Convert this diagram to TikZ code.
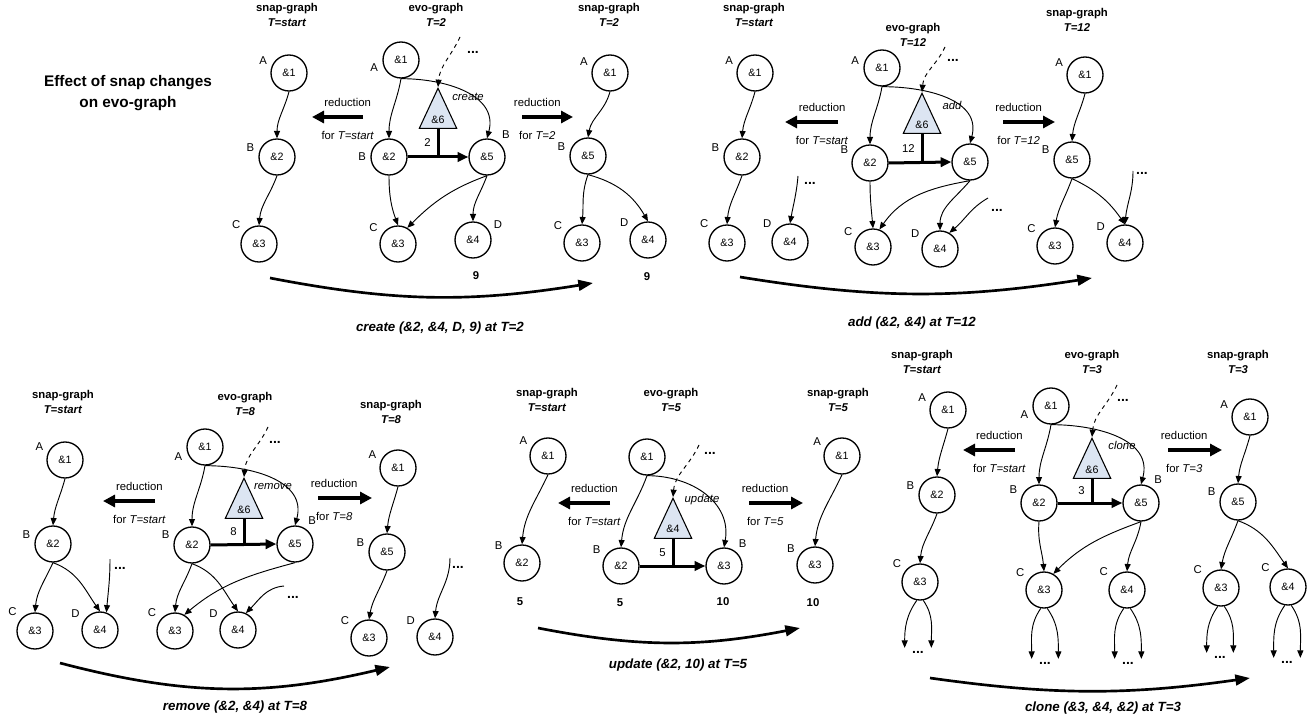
\documentclass[tikz,border=0pt]{standalone}
\usepackage{fontspec}
\setmainfont{Liberation Sans}
\usetikzlibrary{arrows.meta,shapes.geometric}
\definecolor{trifill}{RGB}{220,229,242}

\tikzset{
  vtx/.style={circle,draw,line width=1pt,minimum size=27pt,inner sep=0pt,font=\fontsize{8}{9}\selectfont},
  tri/.style={isosceles triangle,isosceles triangle apex angle=50,shape border rotate=90,draw,line width=0.8pt,
    fill=trifill,minimum width=28pt,minimum height=28pt,inner sep=1pt,anchor=apex,font=\fontsize{8}{9}\selectfont},
  hdr/.style={align=center,font=\bfseries\fontsize{8.5}{11.25}\selectfont},
  num/.style={font=\bfseries\fontsize{8.5}{10}\selectfont},
  dts/.style={font=\bfseries\fontsize{10.5}{12}\selectfont,inner sep=2pt},
  captxt/.style={font=\bfseries\itshape\fontsize{10}{12}\selectfont},
  txt/.style={font=\fontsize{8.5}{10}\selectfont},
  op/.style={font=\itshape\fontsize{8.5}{10}\selectfont},
  thk/.style={line width=2.25pt},
  thkarr/.style={thk,-{Triangle[length=8pt,width=7pt]}},
  redarr/.style={line width=3pt,-{Triangle[length=9pt,width=9pt]}},
  bigarr/.style={line width=2pt,-{Triangle[length=11pt,width=8pt]}},
  every label/.style={font=\fontsize{8.5}{10}\selectfont,inner sep=1pt},
  label distance=2pt
}

\begin{document}
\begin{tikzpicture}[x=0.75pt,y=-0.75pt,>={Triangle[length=5.5pt,width=4.5pt]},line width=0.7pt]
  \useasboundingbox (0,0) rectangle (1312,723);
  \node[font=\bfseries\fontsize{11.5}{15.5}\selectfont,align=center] (title) at (128,93) {Effect of snap changes\\on evo-graph};

  % create
  \node[hdr] (p1sh) at (287,15) {snap-graph\\\textit{T=start}};
  \node[vtx,label=162:A] (p1s1) at (289,73) {\&1};
  \node[vtx,label=170:B] (p1s2) at (277,157) {\&2};
  \node[vtx,label=142:C] (p1s3) at (259,244) {\&3};
  \draw[->] (p1s1.south) to[out=-105,in=90] (p1s2.north);
  \draw[->] (p1s2.south) to[out=-110,in=85] (p1s3.north);
  \coordinate (p1redl0) at (363,117);
  \coordinate (p1redl1) at (312,117);
  \draw[redarr] (p1redl0) -- (p1redl1) node[pos=0.3,above=3pt,txt] {reduction} node[pos=0.3,below=6pt,txt] {for \textit{T=start}};

  \node[hdr] (p1ah) at (436,15) {evo-graph\\\textit{T=2}};
  \node[vtx,label=186:A] (p1a1) at (401,60) {\&1};
  \node[vtx,label=180:B] (p1a2) at (389,157) {\&2};
  \node[vtx,label=51:B] (p1a5) at (487,157) {\&5};
  \node[vtx,label=151:C] (p1a3) at (398,244) {\&3};
  \node[vtx,label=27:D] (p1a4) at (473,240) {\&4};
  \node[tri] (p1a6) at (438,87) {\&6};
  \node[op] (p1op) at (468,97) {create};
  \node[dts] (p1dd) at (473,52) {...};
  \coordinate (p1d0) at (460,37);
  \draw[->,dashed] (p1d0) to[out=-115,in=85] (p1a6.apex);
  \draw[->] (p1a1.south) to[out=-100,in=90] (p1a2.north);
  \draw[->] (p1a1.south) to[out=0,in=75,looseness=1.1] (p1a5.north);
  \draw[thkarr] (p1a2.east) -- (p1a5.west);
  \draw[thk] (p1a6.lower side) -- (p1a6.lower side |- p1a2.center) node[midway,left=1pt,txt] {2};
  \draw[->] (p1a2.south) to[out=-90,in=110] (p1a3.north);
  \draw[->] (p1a5.south) to[out=200,in=45] (p1a3.60);
  \draw[->] (p1a5.south) to[out=-110,in=90] (p1a4.north);
  \node[num] (p1n1) at (476,276) {9};

  \coordinate (p1redr0) at (522,117);
  \coordinate (p1redr1) at (573,117);
  \draw[redarr] (p1redr0) -- (p1redr1) node[pos=0.3,above=3pt,txt] {reduction} node[pos=0.3,below=6pt,txt] {for \textit{T=2}};
  \node[hdr] (p1rh) at (609,15) {snap-graph\\\textit{T=2}};
  \node[vtx,label=164:A] (p1r1) at (610,73) {\&1};
  \node[vtx,label=170:B] (p1r5) at (588,156) {\&5};
  \node[vtx,label=148:C] (p1r3) at (582,243) {\&3};
  \node[vtx,label=147:D] (p1r4) at (648,240) {\&4};
  \draw[->] (p1r1.south) to[out=-105,in=80] (p1r5.north);
  \draw[->] (p1r5.south) to[out=-110,in=85] (p1r3.north);
  \draw[->] (p1r5.south) to[out=-15,in=120] (p1r4.north);
  \node[num] (p1n2) at (647,277) {9};
  \coordinate (p1cur0) at (270,278);
  \coordinate (p1cur1) at (593,283);
  \draw[bigarr] (p1cur0) to[bend right=10] (p1cur1);
  \node[captxt] (p1cap) at (440,328) {create (\&2, \&4, D, 9) at T=2};

  % add
  \node[hdr] (p2sh) at (754,15) {snap-graph\\\textit{T=start}};
  \node[vtx,label=162:A] (p2s1) at (755,73) {\&1};
  \node[vtx,label=170:B] (p2s2) at (742,157) {\&2};
  \node[vtx,label=142:C] (p2s3) at (727,243) {\&3};
  \node[vtx,label=142:D] (p2s4) at (790,242) {\&4};
  \node[dts] (p2sd) at (810,183) {...};
  \coordinate (p2sd0) at (798,176);
  \draw[->] (p2s1.south) to[out=-105,in=85] (p2s2.north);
  \draw[->] (p2s2.south) to[out=-110,in=85] (p2s3.north);
  \draw[->] (p2sd0) to[out=-95,in=80] (p2s4.north);
  \coordinate (p2redl0) at (838,122);
  \coordinate (p2redl1) at (785,122);
  \draw[redarr] (p2redl0) -- (p2redl1) node[pos=0.3,above=3pt,txt] {reduction} node[pos=0.3,below=6pt,txt] {for \textit{T=start}};

  \node[hdr] (p2ah) at (913,35) {evo-graph\\\textit{T=12}};
  \node[vtx,label=176:A] (p2a1) at (882,68) {\&1};
  \node[vtx,label=160:B] (p2a2) at (870,163) {\&2};
  \node[vtx] (p2a5) at (970,162) {\&5};
  \node[vtx,label=152:C] (p2a3) at (873,247) {\&3};
  \node[vtx,label=153:D] (p2a4) at (940,249) {\&4};
  \node[tri] (p2a6) at (922,92) {\&6};
  \node[op] (p2op) at (952,105) {add};
  \node[dts] (p2dd) at (953,60) {...};
  \coordinate (p2d0) at (945,47);
  \draw[->,dashed] (p2d0) to[out=-115,in=85] (p2a6.apex);
  \draw[->] (p2a1.south) to[out=-100,in=90] (p2a2.north);
  \draw[->] (p2a1.south) to[out=0,in=75,looseness=1.1] (p2a5.north);
  \draw[thkarr] (p2a2.east) -- (p2a5.west);
  \draw[thk] (p2a6.lower side) -- (p2a6.lower side |- p2a2.center) node[midway,left=1pt,txt] {12};
  \draw[->] (p2a2.south) to[out=-90,in=95] (p2a3.north);
  \draw[->] (p2a5.south) to[out=190,in=55] (p2a3.70);
  \draw[->] (p2a5.south) to[out=-130,in=90] (p2a4.north);
  \node[dts] (p2ad) at (997,210) {...};
  \coordinate (p2ad0) at (988,198);
  \draw[->] (p2ad0) to[out=-150,in=40] (p2a4.60);

  \coordinate (p2redr0) at (1003,122);
  \coordinate (p2redr1) at (1055,122);
  \draw[redarr] (p2redr0) -- (p2redr1) node[pos=0.3,above=3pt,txt] {reduction} node[pos=0.3,below=6pt,txt] {for \textit{T=12}};
  \node[hdr] (p2rh) at (1077,20) {snap-graph\\\textit{T=12}};
  \node[vtx,label=163:A] (p2r1) at (1085,75) {\&1};
  \node[vtx,label=168:B] (p2r5) at (1072,160) {\&5};
  \node[vtx,label=146:C] (p2r3) at (1055,246) {\&3};
  \node[vtx,label=150:D] (p2r4) at (1125,243) {\&4};
  \node[dts] (p2rd) at (1142,173) {...};
  \coordinate (p2rd0) at (1133,171);
  \draw[->] (p2r1.south) to[out=-105,in=85] (p2r5.north);
  \draw[->] (p2r5.south) to[out=-110,in=80] (p2r3.north);
  \draw[->] (p2r5.south) to[out=-25,in=125] (p2r4.north);
  \draw[->] (p2rd0) to[out=-90,in=85] (p2r4.north);
  \coordinate (p2cur0) at (740,277);
  \coordinate (p2cur1) at (1092,278);
  \draw[bigarr] (p2cur0) to[bend right=9] (p2cur1);
  \node[captxt] (p2cap) at (912,323) {add (\&2, \&4) at T=12};

  % remove
  \node[hdr] (p3sh) at (63,402) {snap-graph\\\textit{T=start}};
  \node[vtx,label=160:A] (p3s1) at (65,460) {\&1};
  \node[vtx,label=170:B] (p3s2) at (53,544) {\&2};
  \node[vtx,label=141:C] (p3s3) at (35,631) {\&3};
  \node[vtx,label=151:D] (p3s4) at (100,630) {\&4};
  \node[dts] (p3sd) at (120,568) {...};
  \coordinate (p3sd0) at (110,559);
  \draw[->] (p3s1.south) to[out=-105,in=85] (p3s2.north);
  \draw[->] (p3s2.south) to[out=-115,in=85] (p3s3.north);
  \draw[->] (p3s2.south) to[out=-20,in=125] (p3s4.north);
  \draw[->] (p3sd0) to[out=-90,in=85] (p3s4.70);
  \coordinate (p3redl0) at (155,501);
  \coordinate (p3redl1) at (103,501);
  \draw[redarr] (p3redl0) -- (p3redl1) node[pos=0.3,above=3pt,txt] {reduction} node[pos=0.3,below=6pt,txt] {for \textit{T=start}};

  \node[hdr] (p3ah) at (245,404) {evo-graph\\\textit{T=8}};
  \node[vtx,label=190:A] (p3a1) at (205,447) {\&1};
  \node[vtx,label=166:B] (p3a2) at (192,545) {\&2};
  \node[vtx,label=57:B] (p3a5) at (295,544) {\&5};
  \node[vtx,label=144:C] (p3a3) at (175,631) {\&3};
  \node[vtx,label=151:D] (p3a4) at (238,630) {\&4};
  \node[tri] (p3a6) at (244,477) {\&6};
  \node[op] (p3op) at (273,487) {remove};
  \node[dts] (p3dd) at (275,442) {...};
  \coordinate (p3d0) at (268,427);
  \draw[->,dashed] (p3d0) to[out=-115,in=85] (p3a6.apex);
  \draw[->] (p3a1.south) to[out=-100,in=90] (p3a2.north);
  \draw[->] (p3a1.south) to[out=0,in=75,looseness=1.1] (p3a5.north);
  \draw[thkarr] (p3a2.east) -- (p3a5.west);
  \draw[thk] (p3a6.lower side) -- (p3a6.lower side |- p3a2.center) node[midway,left=1pt,txt] {8};
  \draw[->] (p3a2.south) to[out=-110,in=85] (p3a3.north);
  \draw[->] (p3a2.south) to[out=-20,in=125] (p3a4.north);
  \draw[->] (p3a5.south) to[out=195,in=40] (p3a3.60);
  \node[dts] (p3ad) at (293,597) {...};
  \coordinate (p3ad0) at (284,586);
  \draw[->] (p3ad0) to[out=185,in=45] (p3a4.65);

  \coordinate (p3redr0) at (318,498);
  \coordinate (p3redr1) at (372,498);
  \draw[redarr] (p3redr0) -- (p3redr1) node[pos=0.3,above=3pt,txt] {reduction} node[pos=0.3,below=6pt,txt] {for \textit{T=8}};
  \node[hdr] (p3rh) at (391,412) {snap-graph\\\textit{T=8}};
  \node[vtx,label=159:A] (p3r1) at (398,468) {\&1};
  \node[vtx,label=170:B] (p3r5) at (387,552) {\&5};
  \node[vtx,label=148:C] (p3r3) at (369,638) {\&3};
  \node[vtx,label=149:D] (p3r4) at (435,637) {\&4};
  \node[dts] (p3rd) at (458,567) {...};
  \coordinate (p3rd0) at (450,558);
  \draw[->] (p3r1.south) to[out=-105,in=85] (p3r5.north);
  \draw[->] (p3r5.south) to[out=-110,in=80] (p3r3.north);
  \draw[->] (p3rd0) to[out=-90,in=85] (p3r4.north);
  \coordinate (p3cur0) at (60,663);
  \coordinate (p3cur1) at (390,667);
  \draw[bigarr] (p3cur0) to[bend right=14] (p3cur1);
  \node[captxt] (p3cap) at (235,707) {remove (\&2, \&4) at T=8};

  % update
  \node[hdr] (p4sh) at (547,400) {snap-graph\\\textit{T=start}};
  \node[vtx,label=153:A] (p4s1) at (548,456) {\&1};
  \node[vtx,label=147:B] (p4s2) at (522,563) {\&2};
  \draw[->] (p4s1.south) to[out=-115,in=85] (p4s2.north);
  \node[num] (p4n1) at (520,602) {5};
  \coordinate (p4redl0) at (610,503);
  \coordinate (p4redl1) at (558,503);
  \draw[redarr] (p4redl0) -- (p4redl1) node[pos=0.3,above=3pt,txt] {reduction} node[pos=0.3,below=6pt,txt] {for \textit{T=start}};

  \node[hdr] (p4ah) at (671,400) {evo-graph\\\textit{T=5}};
  \node[vtx] (p4a1) at (647,457) {\&1};
  \node[vtx,label=151:B] (p4a2) at (621,566) {\&2};
  \node[vtx,label=52:B] (p4a3) at (724,566) {\&3};
  \node[tri] (p4a4) at (673,497) {\&4};
  \node[op] (p4op) at (702,500) {update};
  \node[dts] (p4dd) at (710,453) {...};
  \coordinate (p4d0) at (699,445);
  \draw[->,dashed] (p4d0) to[out=-115,in=85] (p4a4.apex);
  \draw[->] (p4a1.south) to[out=-110,in=85] (p4a2.north);
  \draw[->] (p4a1.south) to[out=0,in=80,looseness=1.1] (p4a3.north);
  \draw[thkarr] (p4a2.east) -- (p4a3.west);
  \draw[thk] (p4a4.lower side) -- (p4a4.lower side |- p4a2.center) node[midway,left=1pt,txt] {5};
  \node[num] (p4n2) at (620,603) {5};
  \node[num] (p4n3) at (723,602) {10};

  \coordinate (p4redr0) at (749,503);
  \coordinate (p4redr1) at (803,503);
  \draw[redarr] (p4redr0) -- (p4redr1) node[pos=0.3,above=3pt,txt] {reduction} node[pos=0.3,below=6pt,txt] {for \textit{T=5}};
  \node[hdr] (p4rh) at (838,400) {snap-graph\\\textit{T=5}};
  \node[vtx,label=155:A] (p4r1) at (842,456) {\&1};
  \node[vtx,label=150:B] (p4r3) at (815,565) {\&3};
  \draw[->] (p4r1.south) to[out=-115,in=85] (p4r3.north);
  \node[num] (p4n4) at (813,603) {10};
  \coordinate (p4cur0) at (538,628);
  \coordinate (p4cur1) at (800,628);
  \draw[bigarr] (p4cur0) to[bend right=11] (p4cur1);
  \node[captxt] (p4cap) at (678,665) {update (\&2, 10) at T=5};

  % clone
  \node[hdr] (p5sh) at (922,362) {snap-graph\\\textit{T=start}};
  \node[vtx,label=162:A] (p5s1) at (948,410) {\&1};
  \node[vtx,label=170:B] (p5s2) at (937,495) {\&2};
  \node[vtx,label=143:C] (p5s3) at (920,582) {\&3};
  \node[dts] (p5sd) at (918,652) {...};
  \draw[->] (p5s1.south) to[out=-105,in=85] (p5s2.north);
  \draw[->] (p5s2.south) to[out=-110,in=85] (p5s3.north);
  \draw[->] (p5s3.-100) to[out=-125,in=90] ([xshift=-10pt]p5sd.north);
  \draw[->] (p5s3.-80) to[out=-55,in=90] ([xshift=10pt]p5sd.north);
  \coordinate (p5redl0) at (1015,450);
  \coordinate (p5redl1) at (963,450);
  \draw[redarr] (p5redl0) -- (p5redl1) node[pos=0.3,above=3pt,txt] {reduction} node[pos=0.3,below=6pt,txt] {for \textit{T=start}};

  \node[hdr] (p5ah) at (1092,362) {evo-graph\\\textit{T=3}};
  \node[vtx,label=189:A] (p5a1) at (1051,406) {\&1};
  \node[vtx,label=160:B] (p5a2) at (1039,503) {\&2};
  \node[vtx,label=57:B] (p5a5) at (1141,503) {\&5};
  \node[vtx,label=147:C] (p5a3) at (1044,590) {\&3};
  \node[vtx,label=145:C] (p5a4) at (1127,590) {\&4};
  \node[tri] (p5a6) at (1092,437) {\&6};
  \node[op] (p5op) at (1122,445) {clone};
  \node[dts] (p5dd) at (1123,400) {...};
  \coordinate (p5d0) at (1117,385);
  \draw[->,dashed] (p5d0) to[out=-115,in=85] (p5a6.apex);
  \draw[->] (p5a1.south) to[out=-100,in=90] (p5a2.north);
  \draw[->] (p5a1.south) to[out=0,in=75,looseness=1.1] (p5a5.north);
  \draw[thkarr] (p5a2.east) -- (p5a5.west);
  \draw[thk] (p5a6.lower side) -- (p5a6.lower side |- p5a2.center) node[midway,left=1pt,txt] {3};
  \draw[->] (p5a2.south) to[out=-95,in=95] (p5a3.north);
  \draw[->] (p5a5.south) to[out=200,in=45] (p5a3.60);
  \draw[->] (p5a5.south) to[out=-100,in=85] (p5a4.north);
  \node[dts] (p5ad1) at (1045,663) {...};
  \node[dts] (p5ad2) at (1128,663) {...};
  \draw[->] (p5a3.-100) to[out=-125,in=90] ([xshift=-10pt]p5ad1.north);
  \draw[->] (p5a3.-80) to[out=-55,in=90] ([xshift=10pt]p5ad1.north);
  \draw[->] (p5a4.-100) to[out=-125,in=90] ([xshift=-10pt]p5ad2.north);
  \draw[->] (p5a4.-80) to[out=-55,in=90] ([xshift=10pt]p5ad2.north);

  \coordinate (p5redr0) at (1168,450);
  \coordinate (p5redr1) at (1222,450);
  \draw[redarr] (p5redr0) -- (p5redr1) node[pos=0.3,above=3pt,txt] {reduction} node[pos=0.3,below=6pt,txt] {for \textit{T=3}};
  \node[hdr] (p5rh) at (1238,362) {snap-graph\\\textit{T=3}};
  \node[vtx,label=162:A] (p5r1) at (1250,417) {\&1};
  \node[vtx,label=168:B] (p5r5) at (1238,502) {\&5};
  \node[vtx,label=145:C] (p5r3) at (1221,588) {\&3};
  \node[vtx,label=141:C] (p5r4) at (1288,587) {\&4};
  \node[dts] (p5rd1) at (1220,657) {...};
  \node[dts] (p5rd2) at (1287,662) {...};
  \draw[->] (p5r1.south) to[out=-105,in=85] (p5r5.north);
  \draw[->] (p5r5.south) to[out=-110,in=80] (p5r3.north);
  \draw[->] (p5r5.south) to[out=-20,in=125] (p5r4.north);
  \draw[->] (p5r3.-100) to[out=-125,in=90] ([xshift=-10pt]p5rd1.north);
  \draw[->] (p5r3.-80) to[out=-55,in=90] ([xshift=10pt]p5rd1.north);
  \draw[->] (p5r4.-100) to[out=-125,in=90] ([xshift=-10pt]p5rd2.north);
  \draw[->] (p5r4.-80) to[out=-55,in=90] ([xshift=10pt]p5rd2.north);
  \coordinate (p5cur0) at (930,678);
  \coordinate (p5cur1) at (1250,678);
  \draw[bigarr] (p5cur0) to[bend right=8] (p5cur1);
  \node[captxt] (p5cap) at (1103,708) {clone (\&3, \&4, \&2) at T=3};
\end{tikzpicture}
\end{document}
